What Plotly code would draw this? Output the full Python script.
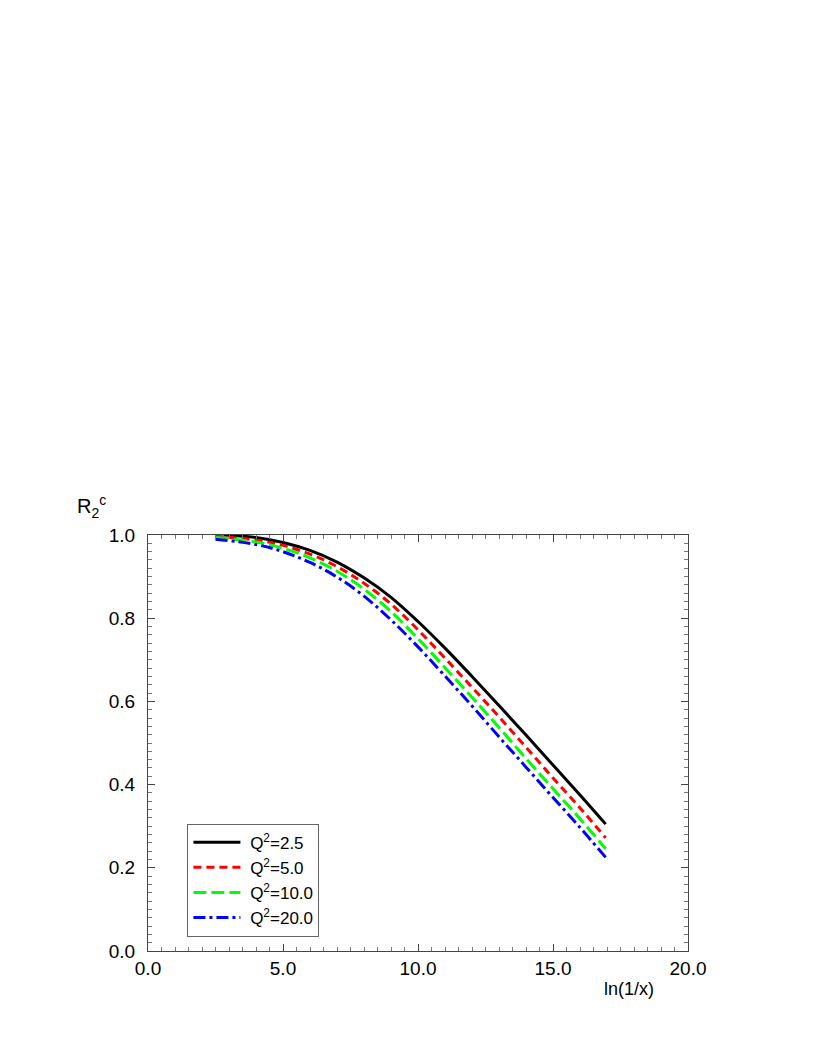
import plotly.graph_objects as go

# Data
x_black = [2.8, 4.0, 5.0, 6.0, 7.0, 8.0, 9.0, 10.0, 11.0, 12.0, 13.0, 14.0, 15.0, 16.0, 16.95]
y_q2_2p5 = [1.000, 0.994, 0.982, 0.963, 0.935, 0.897, 0.850, 0.792, 0.728, 0.660, 0.590, 0.519, 0.447, 0.375, 0.305]

x_other = [2.5, 4.0, 5.0, 6.0, 7.0, 8.0, 9.0, 10.0, 11.0, 12.0, 13.0, 14.0, 15.0, 16.0, 16.95]
y_q2_5 = [0.997, 0.988, 0.975, 0.954, 0.924, 0.884, 0.834, 0.772, 0.704, 0.634, 0.563, 0.490, 0.416, 0.344, 0.272]
y_q2_10 = [0.994, 0.983, 0.968, 0.945, 0.913, 0.870, 0.816, 0.751, 0.681, 0.610, 0.537, 0.463, 0.390, 0.318, 0.246]
y_q2_20 = [0.990, 0.977, 0.960, 0.934, 0.899, 0.853, 0.796, 0.731, 0.661, 0.589, 0.515, 0.442, 0.369, 0.297, 0.225]

names = ["\u00a0Q<sup>2</sup>=2.5", "\u00a0Q<sup>2</sup>=5.0", "\u00a0Q<sup>2</sup>=10.0", "\u00a0Q<sup>2</sup>=20.0"]
x_ticks = [0, 5, 10, 15, 20]
x_tick_labels = ["0.0", "5.0", "10.0", "15.0", "20.0"]
y_ticks = [0, 0.2, 0.4, 0.6, 0.8, 1.0]
y_tick_labels = ["0.0", "0.2", "0.4", "0.6", "0.8", "1.0"]

FONT = "Liberation Sans, Arial, Helvetica, sans-serif"

fig = go.Figure()
fig.add_trace(go.Scatter(x=x_black, y=y_q2_2p5, mode="lines", name=names[0],
                         line=dict(color="#000000", width=3, shape="spline")))
fig.add_trace(go.Scatter(x=x_other, y=y_q2_5, mode="lines", name=names[1],
                         line=dict(color="#ff0000", width=3, dash="8px,5px", shape="spline")))
fig.add_trace(go.Scatter(x=x_other, y=y_q2_10, mode="lines", name=names[2],
                         line=dict(color="#00ff00", width=3, dash="13px,5px", shape="spline")))
fig.add_trace(go.Scatter(x=x_other, y=y_q2_20, mode="lines", name=names[3],
                         line=dict(color="#0000ff", width=3, dash="12px,4px,3px,4px", shape="spline")))

axis_common = dict(
    showline=True, linecolor="#444444", linewidth=1, mirror="allticks",
    ticks="inside", ticklen=7, tickcolor="#444444", tickwidth=1,
    showgrid=False, zeroline=False,
    tickfont=dict(family=FONT, size=19, color="#000000"),
)

fig.update_xaxes(range=[0, 20], tickvals=x_ticks, ticktext=x_tick_labels,
                 minor=dict(dtick=0.5, ticks="inside", ticklen=4, tickcolor="#777777", showgrid=False),
                 **axis_common)
fig.update_yaxes(range=[0, 1], tickvals=y_ticks, ticktext=y_tick_labels,
                 ticklabelstandoff=8,
                 minor=dict(dtick=0.02, ticks="inside", ticklen=4, tickcolor="#777777", showgrid=False),
                 **axis_common)

fig.add_annotation(text="ln(1/x)", xref="paper", yref="paper", x=0.89, y=-0.092,
                   showarrow=False, font=dict(family=FONT, size=18, color="#000000"),
                   xanchor="center", yanchor="middle")
fig.add_annotation(text="R<sub>2</sub><sup>c</sup>", xref="paper", yref="paper",
                   x=-0.136, y=1.03, showarrow=False,
                   font=dict(family=FONT, size=20, color="#000000"),
                   xanchor="left", yanchor="bottom")

fig.update_layout(
    width=817, height=1058,
    margin=dict(l=140, r=137, t=527, b=115),
    paper_bgcolor="white", plot_bgcolor="white",
    showlegend=True,
    legend=dict(x=0.073, y=0.306, xanchor="left", yanchor="top",
                bgcolor="white", bordercolor="#666666", borderwidth=1,
                font=dict(family=FONT, size=17, color="#000000"),
                itemwidth=47, tracegroupgap=0),
)

fig.write_html("out.html")
